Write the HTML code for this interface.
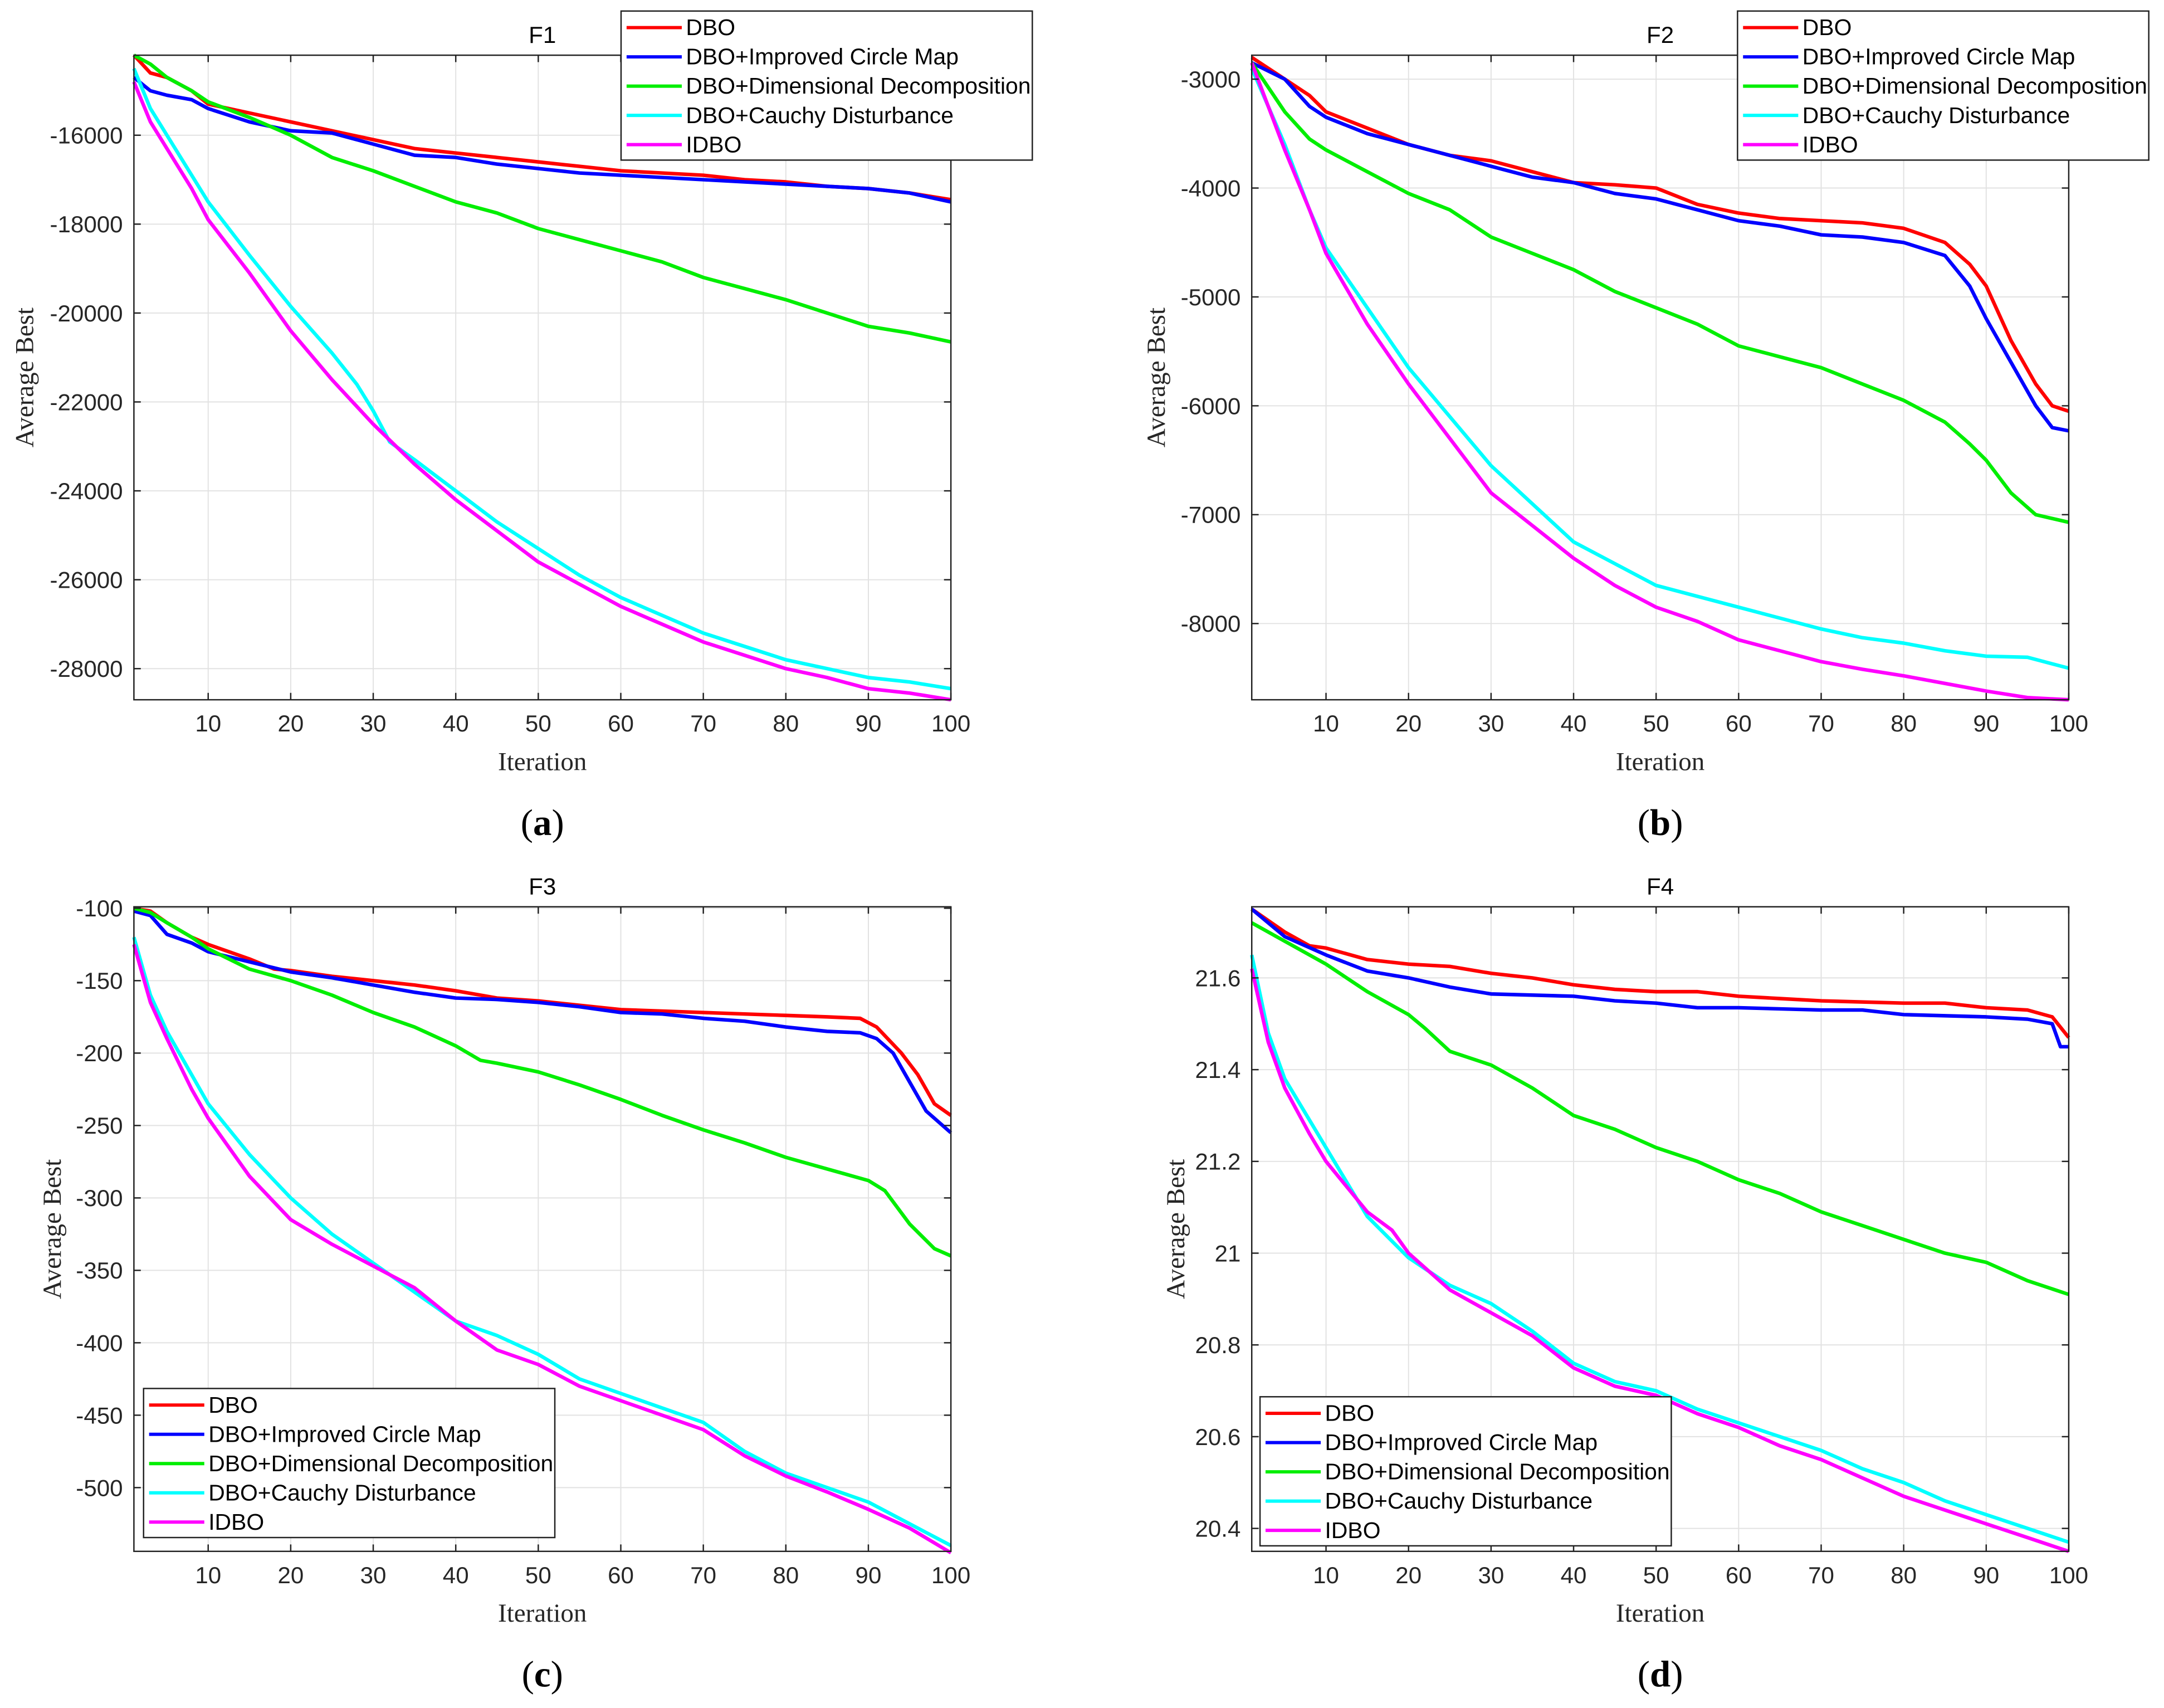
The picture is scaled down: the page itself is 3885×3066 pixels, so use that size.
<!DOCTYPE html>
<html><head><meta charset="utf-8"><style>
html,body{margin:0;padding:0;background:#fff}
svg{display:block}
</style></head><body>
<svg id="fig" xmlns="http://www.w3.org/2000/svg" width="3885" height="3066" viewBox="0 0 1568 1237.5">
<rect width="1568" height="1237.5" fill="#fff"/>
</svg>
<script>
// ---- shared ----
const seriesNames = ["DBO","DBO+Improved Circle Map","DBO+Dimensional Decomposition","DBO+Cauchy Disturbance","IDBO"];
const seriesColors = ["#ff0000","#0000ff","#00ee00","#00ffff","#ff00ff"];
const xTicks = [10,20,30,40,50,60,70,80,90,100];

// ---- panel a (F1) ----
const aIt0=[1,3,5,8,10,15,20,25,30,35,40,45,50,55,60,65,70,75,80,85,90,95,100];
const aV0=[-14200,-14600,-14700,-15000,-15300,-15500,-15700,-15900,-16100,-16300,-16400,-16500,-16600,-16700,-16800,-16850,-16900,-17000,-17050,-17150,-17200,-17300,-17450];
const aIt1=aIt0;
const aV1=[-14700,-15000,-15100,-15200,-15400,-15700,-15900,-15950,-16200,-16450,-16500,-16650,-16750,-16850,-16900,-16950,-17000,-17050,-17100,-17150,-17200,-17300,-17500];
const aIt2=aIt0;
const aV2=[-14200,-14400,-14700,-15000,-15250,-15600,-16000,-16500,-16800,-17150,-17500,-17750,-18100,-18350,-18600,-18850,-19200,-19450,-19700,-20000,-20300,-20450,-20650];
const aIt3=[1,3,5,8,10,15,20,25,28,30,32,35,40,45,50,55,60,65,70,75,80,85,90,95,100];
const aV3=[-14500,-15400,-16000,-16900,-17500,-18700,-19850,-20900,-21600,-22200,-22900,-23300,-24000,-24700,-25300,-25900,-26400,-26800,-27200,-27500,-27800,-28000,-28200,-28300,-28450];
const aIt4=aIt0;
const aV4=[-14800,-15700,-16300,-17200,-17900,-19100,-20400,-21500,-22500,-23400,-24200,-24900,-25600,-26100,-26600,-27000,-27400,-27700,-28000,-28200,-28450,-28550,-28700];
const aYTicks=[-16000,-18000,-20000,-22000,-24000,-26000,-28000];
const aYTickLabels=["-16000","-18000","-20000","-22000","-24000","-26000","-28000"];

// ---- panel b (F2) ----
const bIt0=[1,5,8,10,15,20,25,30,35,40,45,50,55,60,65,70,75,80,85,88,90,93,96,98,100];
const bV0=[-2800,-3000,-3150,-3300,-3450,-3600,-3700,-3750,-3850,-3950,-3970,-4000,-4150,-4230,-4280,-4300,-4320,-4370,-4500,-4700,-4900,-5400,-5800,-6000,-6050];
const bIt1=bIt0;
const bV1=[-2850,-3000,-3250,-3350,-3500,-3600,-3700,-3800,-3900,-3950,-4050,-4100,-4200,-4300,-4350,-4430,-4450,-4500,-4620,-4900,-5200,-5600,-6000,-6200,-6230];
const bIt2=[1,5,8,10,15,20,25,30,35,40,45,50,55,60,65,70,75,80,85,88,90,93,96,100];
const bV2=[-2850,-3300,-3550,-3650,-3850,-4050,-4200,-4450,-4600,-4750,-4950,-5100,-5250,-5450,-5550,-5650,-5800,-5950,-6150,-6350,-6500,-6800,-7000,-7070];
const bIt3=[1,5,8,10,15,20,25,30,35,40,45,50,55,60,65,70,75,80,85,90,95,100];
const bV3=[-2900,-3600,-4200,-4550,-5100,-5650,-6100,-6550,-6900,-7250,-7450,-7650,-7750,-7850,-7950,-8050,-8130,-8180,-8250,-8300,-8310,-8410];
const bIt4=bIt3;
const bV4=[-2850,-3650,-4200,-4600,-5250,-5800,-6300,-6800,-7100,-7400,-7650,-7850,-7980,-8150,-8250,-8350,-8420,-8480,-8550,-8620,-8680,-8700];
const bYTicks=[-3000,-4000,-5000,-6000,-7000,-8000];
const bYTickLabels=["-3000","-4000","-5000","-6000","-7000","-8000"];

// ---- panel c (F3) ----
const cIt0=[1,3,5,8,10,15,18,20,25,30,35,40,45,50,55,60,65,70,75,80,85,89,91,94,96,98,100];
const cV0=[-100,-102,-110,-120,-125,-135,-142,-143,-147,-150,-153,-157,-162,-164,-167,-170,-171,-172,-173,-174,-175,-176,-182,-200,-215,-235,-243];
const cIt1=[1,3,5,8,10,15,20,25,30,35,40,45,50,55,60,65,70,75,80,85,89,91,93,95,97,100];
const cV1=[-102,-105,-118,-124,-130,-137,-144,-148,-153,-158,-162,-163,-165,-168,-172,-173,-176,-178,-182,-185,-186,-190,-200,-220,-240,-255];
const cIt2=[1,3,5,8,10,15,20,25,30,35,40,43,45,50,55,60,65,70,75,80,85,90,92,95,98,100];
const cV2=[-100,-103,-110,-120,-128,-142,-150,-160,-172,-182,-195,-205,-207,-213,-222,-232,-243,-253,-262,-272,-280,-288,-295,-318,-335,-340];
const cIt3=[1,3,5,8,10,15,20,25,30,35,40,45,50,55,60,65,70,75,80,85,90,95,100];
const cV3=[-120,-160,-185,-215,-235,-270,-300,-325,-345,-365,-385,-395,-408,-425,-435,-445,-455,-475,-490,-500,-510,-525,-540];
const cIt4=cIt3;
const cV4=[-125,-165,-190,-225,-245,-285,-315,-332,-347,-362,-385,-405,-415,-430,-440,-450,-460,-478,-492,-503,-515,-528,-545];
const cYTicks=[-100,-150,-200,-250,-300,-350,-400,-450,-500];
const cYTickLabels=["-100","-150","-200","-250","-300","-350","-400","-450","-500"];

// ---- panel d (F4) ----
const dIt0=[1,5,8,10,15,20,25,30,35,40,45,50,55,60,65,70,80,85,90,95,98,100];
const dV0=[21.75,21.70,21.67,21.665,21.64,21.63,21.625,21.61,21.60,21.585,21.575,21.57,21.57,21.56,21.555,21.55,21.545,21.545,21.535,21.53,21.515,21.47];
const dIt1=[1,5,10,15,20,25,30,40,45,50,55,60,70,75,80,90,95,98,99,100];
const dV1=[21.75,21.69,21.65,21.615,21.60,21.58,21.565,21.56,21.55,21.545,21.535,21.535,21.53,21.53,21.52,21.515,21.51,21.50,21.45,21.45];
const dIt2=[1,5,10,15,20,22,25,30,35,40,45,50,55,60,65,70,75,80,85,90,95,100];
const dV2=[21.72,21.68,21.63,21.57,21.52,21.49,21.44,21.41,21.36,21.30,21.27,21.23,21.20,21.16,21.13,21.09,21.06,21.03,21.00,20.98,20.94,20.91];
const dIt3=[1,3,5,8,10,15,20,25,30,35,40,45,50,55,60,65,70,75,80,85,90,95,100];
const dV3=[21.65,21.48,21.38,21.29,21.23,21.08,20.99,20.93,20.89,20.83,20.76,20.72,20.70,20.66,20.63,20.60,20.57,20.53,20.50,20.46,20.43,20.40,20.37];
const dIt4=[1,3,5,8,10,15,18,20,25,30,35,40,45,50,55,60,65,70,75,80,85,90,95,100];
const dV4=[21.62,21.46,21.36,21.26,21.20,21.09,21.05,21.00,20.92,20.87,20.82,20.75,20.71,20.69,20.65,20.62,20.58,20.55,20.51,20.47,20.44,20.41,20.38,20.35];
const dYTicks=[20.4,20.6,20.8,21,21.2,21.4,21.6];
const dYTickLabels=["20.4","20.6","20.8","21","21.2","21.4","21.6"];

const NS="http://www.w3.org/2000/svg";
const svg=document.getElementById("fig");
function mk(tag,attrs,parent){const e=document.createElementNS(NS,tag);for(const k in attrs)e.setAttribute(k,attrs[k]);(parent||svg).appendChild(e);return e;}

function panel(p){
  const g=mk("g",{});
  
  
  const L=p.x0,R=p.x1,T=p.y0,B=p.y1;
  const sx=v=>L+(v-1)/99*(R-L);
  const sy=v=>T+(p.ymax-v)/(p.ymax-p.ymin)*(B-T);
  xTicks.forEach(t=>{const l=mk("line",{x1:sx(t),x2:sx(t),y1:T,y2:B,stroke:"#e2e2e2","stroke-width":0.8},g);
    });
  p.yt.forEach(t=>{const l=mk("line",{x1:L,x2:R,y1:sy(t),y2:sy(t),stroke:"#e2e2e2","stroke-width":0.8},g);
    });
  p.series.forEach((s,i)=>{
    const pts=s[0].map((it,k)=>sx(it).toFixed(2)+","+sy(s[1][k]).toFixed(2)).join(" ");
    const pl=mk("polyline",{points:pts,fill:"none",stroke:seriesColors[i],"stroke-width":2.6,"stroke-linejoin":"round"},g);
    
    
  });
  const bx=mk("rect",{x:L,y:T,width:R-L,height:B-T,fill:"none",stroke:"#222","stroke-width":1},g);
  
  xTicks.forEach(t=>{
    mk("line",{x1:sx(t),x2:sx(t),y1:B,y2:B-5,stroke:"#222","stroke-width":1},g);
    mk("line",{x1:sx(t),x2:sx(t),y1:T,y2:T+5,stroke:"#222","stroke-width":1},g);
    const tx=mk("text",{x:sx(t),y:B+23,"text-anchor":"middle","font-family":"Liberation Sans, Arial, sans-serif","font-size":17,fill:"#262626"},g);
    tx.textContent=t;
    
  });
  p.yt.forEach((t,k)=>{
    mk("line",{x1:L,x2:L+5,y1:sy(t),y2:sy(t),stroke:"#222","stroke-width":1},g);
    mk("line",{x1:R,x2:R-5,y1:sy(t),y2:sy(t),stroke:"#222","stroke-width":1},g);
    const tx=mk("text",{x:L-8,y:sy(t)+6,"text-anchor":"end","font-family":"Liberation Sans, Arial, sans-serif","font-size":17,fill:"#262626"},g);
    tx.textContent=p.ytl[k];
    
  });
  const ti=mk("text",{x:(L+R)/2,y:T-9,"text-anchor":"middle","font-family":"Liberation Sans, Arial, sans-serif","font-size":17,fill:"#000"},g);
  ti.textContent=p.title;
  const xl=mk("text",{x:(L+R)/2,y:B+51,"text-anchor":"middle","font-family":"Liberation Serif, serif","font-size":19,fill:"#262626"},g);
  xl.textContent="Iteration";
  const yl=mk("text",{x:0,y:0,"text-anchor":"middle","font-family":"Liberation Serif, serif","font-size":19,fill:"#262626",transform:`translate(${p.ylx},${(T+B)/2}) rotate(-90)`},g);
  yl.textContent="Average Best";
  const cap=mk("text",{x:(L+R)/2,y:B+98,"text-anchor":"middle","font-family":"Liberation Serif, serif","font-size":27,fill:"#000"},g);
  cap.textContent="("; const bs=mk("tspan",{"font-weight":"bold"},cap); bs.textContent=p.id; cap.appendChild(document.createTextNode(")"));
  
  const lg=mk("g",{},g);
  
  mk("rect",{x:p.lx,y:p.ly,width:298,height:108,fill:"#fff",stroke:"#222","stroke-width":1},lg);
  seriesNames.forEach((n,i)=>{
    const yy=p.ly+12+i*21.2;
    mk("line",{x1:p.lx+4,x2:p.lx+44,y1:yy,y2:yy,stroke:seriesColors[i],"stroke-width":2.4},lg);
    const t=mk("text",{x:p.lx+47,y:yy+5.5,"font-family":"Liberation Sans, Arial, sans-serif","font-size":16.5,fill:"#000"},lg);
    t.textContent=n;
  });
}

panel({id:"a",title:"F1",x0:97,x1:689,y0:40,y1:507,ymin:-28700,ymax:-14200,yt:aYTicks,ytl:aYTickLabels,ylx:24,lx:450,ly:8,
  series:[[aIt0,aV0],[aIt1,aV1],[aIt2,aV2],[aIt3,aV3],[aIt4,aV4]]});
panel({id:"b",title:"F2",x0:907,x1:1499,y0:40,y1:507,ymin:-8700,ymax:-2780,yt:bYTicks,ytl:bYTickLabels,ylx:844,lx:1259,ly:8,
  series:[[bIt0,bV0],[bIt1,bV1],[bIt2,bV2],[bIt3,bV3],[bIt4,bV4]]});
panel({id:"c",title:"F3",x0:97,x1:689,y0:657,y1:1124,ymin:-544,ymax:-99,yt:cYTicks,ytl:cYTickLabels,ylx:44,lx:104,ly:1006,
  series:[[cIt0,cV0],[cIt1,cV1],[cIt2,cV2],[cIt3,cV3],[cIt4,cV4]]});
panel({id:"d",title:"F4",x0:907,x1:1499,y0:657,y1:1124,ymin:20.35,ymax:21.755,yt:dYTicks,ytl:dYTickLabels,ylx:858,lx:913,ly:1012,
  series:[[dIt0,dV0],[dIt1,dV1],[dIt2,dV2],[dIt3,dV3],[dIt4,dV4]]});
</script>
</body></html>
